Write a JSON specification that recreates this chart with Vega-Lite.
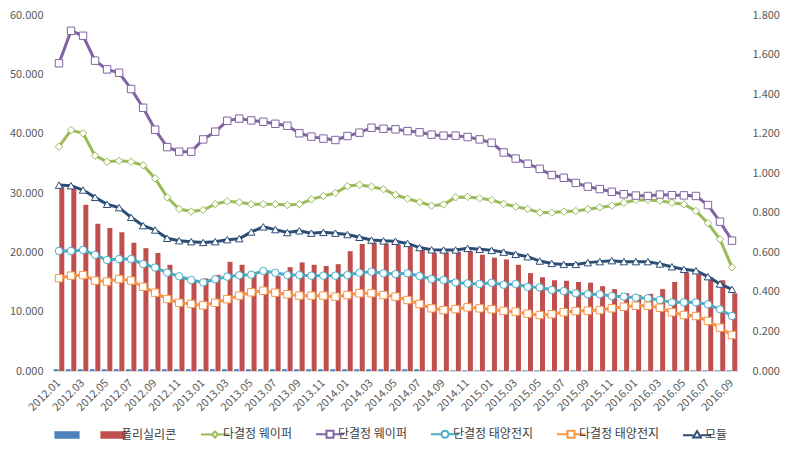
{
  "$schema": "https://vega.github.io/schema/vega-lite/v6.json",
  "width": 685,
  "height": 356,
  "autosize": "none",
  "padding": {"left": 53, "top": 15, "right": 49, "bottom": 86},
  "background": "white",
  "config": {
    "view": {"stroke": null},
    "font": "Noto Sans CJK KR",
    "axis": {"labelFont": "Noto Sans CJK KR", "labelColor": "#595959", "labelFontSize": 11, "grid": false, "ticks": false, "title": null}
  },
  "data": {"values": [
    {"월":"2012.01","_":0.3,"폴리실리콘":31.0,"다결정 웨이퍼":1.134,"단결정 웨이퍼":1.556,"단결정 태양전지":0.607,"다결정 태양전지":0.469,"모듈":0.940},
    {"월":"2012.02","_":0.3,"폴리실리콘":30.7,"다결정 웨이퍼":1.218,"단결정 웨이퍼":1.720,"단결정 태양전지":0.607,"다결정 태양전지":0.482,"모듈":0.937},
    {"월":"2012.03","_":0.3,"폴리실리콘":28.0,"다결정 웨이퍼":1.202,"단결정 웨이퍼":1.695,"단결정 태양전지":0.612,"다결정 태양전지":0.485,"모듈":0.915},
    {"월":"2012.04","_":0.3,"폴리실리콘":24.8,"다결정 웨이퍼":1.089,"단결정 웨이퍼":1.569,"단결정 태양전지":0.587,"다결정 태양전지":0.457,"모듈":0.878},
    {"월":"2012.05","_":0.3,"폴리실리콘":24.1,"다결정 웨이퍼":1.058,"단결정 웨이퍼":1.525,"단결정 태양전지":0.561,"다결정 태양전지":0.452,"모듈":0.843},
    {"월":"2012.06","_":0.3,"폴리실리콘":23.4,"다결정 웨이퍼":1.063,"단결정 웨이퍼":1.508,"단결정 태양전지":0.566,"다결정 태양전지":0.465,"모듈":0.826},
    {"월":"2012.07","_":0.3,"폴리실리콘":21.6,"다결정 웨이퍼":1.058,"단결정 웨이퍼":1.426,"단결정 태양전지":0.566,"다결정 태양전지":0.457,"모듈":0.777},
    {"월":"2012.08","_":0.3,"폴리실리콘":20.7,"다결정 웨이퍼":1.040,"단결정 웨이퍼":1.331,"단결정 태양전지":0.541,"다결정 태양전지":0.426,"모듈":0.735},
    {"월":"2012.09","_":0.3,"폴리실리콘":19.9,"다결정 웨이퍼":0.974,"단결정 웨이퍼":1.220,"단결정 태양전지":0.523,"다결정 태양전지":0.396,"모듈":0.713},
    {"월":"2012.10","_":0.3,"폴리실리콘":17.9,"다결정 웨이퍼":0.878,"단결정 웨이퍼":1.132,"단결정 태양전지":0.497,"다결정 태양전지":0.364,"모듈":0.671},
    {"월":"2012.11","_":0.3,"폴리실리콘":15.8,"다결정 웨이퍼":0.819,"단결정 웨이퍼":1.109,"단결정 태양전지":0.479,"다결정 태양전지":0.345,"모듈":0.659},
    {"월":"2012.12","_":0.3,"폴리실리콘":15.2,"다결정 웨이퍼":0.806,"단결정 웨이퍼":1.109,"단결정 태양전지":0.460,"다결정 태양전지":0.339,"모듈":0.654},
    {"월":"2013.01","_":0.3,"폴리실리콘":15.6,"다결정 웨이퍼":0.814,"단결정 웨이퍼":1.171,"단결정 태양전지":0.448,"다결정 태양전지":0.332,"모듈":0.650},
    {"월":"2013.02","_":0.3,"폴리실리콘":16.2,"다결정 웨이퍼":0.844,"단결정 웨이퍼":1.210,"단결정 태양전지":0.464,"다결정 태양전지":0.345,"모듈":0.654},
    {"월":"2013.03","_":0.3,"폴리실리콘":18.4,"다결정 웨이퍼":0.858,"단결정 웨이퍼":1.265,"단결정 태양전지":0.477,"다결정 태양전지":0.363,"모듈":0.664},
    {"월":"2013.04","_":0.3,"폴리실리콘":17.9,"다결정 웨이퍼":0.853,"단결정 웨이퍼":1.276,"단결정 태양전지":0.484,"다결정 태양전지":0.381,"모듈":0.669},
    {"월":"2013.05","_":0.3,"폴리실리콘":16.3,"다결정 웨이퍼":0.843,"단결정 웨이퍼":1.267,"단결정 태양전지":0.487,"다결정 태양전지":0.398,"모듈":0.703},
    {"월":"2013.06","_":0.3,"폴리실리콘":16.6,"다결정 웨이퍼":0.843,"단결정 웨이퍼":1.260,"단결정 태양전지":0.506,"다결정 태양전지":0.406,"모듈":0.729},
    {"월":"2013.07","_":0.3,"폴리실리콘":16.0,"다결정 웨이퍼":0.843,"단결정 웨이퍼":1.250,"단결정 태양전지":0.497,"다결정 태양전지":0.396,"모듈":0.715},
    {"월":"2013.08","_":0.3,"폴리실리콘":17.5,"다결정 웨이퍼":0.839,"단결정 웨이퍼":1.240,"단결정 태양전지":0.485,"다결정 태양전지":0.388,"모듈":0.700},
    {"월":"2013.09","_":0.3,"폴리실리콘":18.3,"다결정 웨이퍼":0.843,"단결정 웨이퍼":1.202,"단결정 태양전지":0.485,"다결정 태양전지":0.381,"모듈":0.709},
    {"월":"2013.10","_":0.3,"폴리실리콘":17.9,"다결정 웨이퍼":0.868,"단결정 웨이퍼":1.185,"단결정 태양전지":0.482,"다결정 태양전지":0.381,"모듈":0.697},
    {"월":"2013.11","_":0.3,"폴리실리콘":17.7,"다결정 웨이퍼":0.885,"단결정 웨이퍼":1.175,"단결정 태양전지":0.482,"다결정 태양전지":0.381,"모듈":0.701},
    {"월":"2013.12","_":0.3,"폴리실리콘":18.0,"다결정 웨이퍼":0.900,"단결정 웨이퍼":1.168,"단결정 태양전지":0.482,"다결정 태양전지":0.376,"모듈":0.697},
    {"월":"2014.01","_":0.3,"폴리실리콘":20.2,"다결정 웨이퍼":0.935,"단결정 웨이퍼":1.188,"단결정 태양전지":0.485,"다결정 태양전지":0.384,"모듈":0.690},
    {"월":"2014.02","_":0.3,"폴리실리콘":21.4,"다결정 웨이퍼":0.942,"단결정 웨이퍼":1.205,"단결정 태양전지":0.497,"다결정 태양전지":0.393,"모듈":0.676},
    {"월":"2014.03","_":0.3,"폴리실리콘":21.6,"다결정 웨이퍼":0.932,"단결정 웨이퍼":1.230,"단결정 태양전지":0.502,"다결정 태양전지":0.393,"모듈":0.662},
    {"월":"2014.04","_":0.3,"폴리실리콘":21.5,"다결정 웨이퍼":0.919,"단결정 웨이퍼":1.225,"단결정 태양전지":0.494,"다결정 태양전지":0.384,"모듈":0.658},
    {"월":"2014.05","_":0.3,"폴리실리콘":21.3,"다결정 웨이퍼":0.891,"단결정 웨이퍼":1.222,"단결정 태양전지":0.490,"다결정 태양전지":0.376,"모듈":0.656},
    {"월":"2014.06","_":0.3,"폴리실리콘":20.9,"다결정 웨이퍼":0.871,"단결정 웨이퍼":1.213,"단결정 태양전지":0.494,"다결정 태양전지":0.359,"모듈":0.645},
    {"월":"2014.07","_":0.3,"폴리실리콘":20.4,"다결정 웨이퍼":0.854,"단결정 웨이퍼":1.207,"단결정 태양전지":0.480,"다결정 태양전지":0.339,"모듈":0.624},
    {"월":"2014.08","_":0.12,"폴리실리콘":19.9,"다결정 웨이퍼":0.836,"단결정 웨이퍼":1.195,"단결정 태양전지":0.465,"다결정 태양전지":0.317,"모듈":0.613},
    {"월":"2014.09","_":0.12,"폴리실리콘":20.0,"다결정 웨이퍼":0.842,"단결정 웨이퍼":1.190,"단결정 태양전지":0.460,"다결정 태양전지":0.308,"모듈":0.612},
    {"월":"2014.10","_":0.12,"폴리실리콘":20.1,"다결정 웨이퍼":0.878,"단결정 웨이퍼":1.190,"단결정 태양전지":0.448,"다결정 태양전지":0.313,"모듈":0.612},
    {"월":"2014.11","_":0.12,"폴리실리콘":20.2,"다결정 웨이퍼":0.880,"단결정 웨이퍼":1.183,"단결정 태양전지":0.443,"다결정 태양전지":0.322,"모듈":0.620},
    {"월":"2014.12","_":0.12,"폴리실리콘":19.6,"다결정 웨이퍼":0.873,"단결정 웨이퍼":1.171,"단결정 태양전지":0.440,"다결정 태양전지":0.317,"모듈":0.615},
    {"월":"2015.01","_":0.12,"폴리실리콘":19.1,"다결정 웨이퍼":0.865,"단결정 웨이퍼":1.154,"단결정 태양전지":0.446,"다결정 태양전지":0.312,"모듈":0.610},
    {"월":"2015.02","_":0.12,"폴리실리콘":18.8,"다결정 웨이퍼":0.845,"단결정 웨이퍼":1.105,"단결정 태양전지":0.436,"다결정 태양전지":0.304,"모듈":0.601},
    {"월":"2015.03","_":0.12,"폴리실리콘":17.9,"다결정 웨이퍼":0.831,"단결정 웨이퍼":1.074,"단결정 태양전지":0.440,"다결정 태양전지":0.300,"모듈":0.590},
    {"월":"2015.04","_":0.12,"폴리실리콘":16.5,"다결정 웨이퍼":0.819,"단결정 웨이퍼":1.048,"단결정 태양전지":0.425,"다결정 태양전지":0.290,"모듈":0.578},
    {"월":"2015.05","_":0.12,"폴리실리콘":15.8,"다결정 웨이퍼":0.801,"단결정 웨이퍼":1.022,"단결정 태양전지":0.423,"다결정 태양전지":0.283,"모듈":0.556},
    {"월":"2015.06","_":0.12,"폴리실리콘":15.3,"다결정 웨이퍼":0.801,"단결정 웨이퍼":0.991,"단결정 태양전지":0.410,"다결정 태양전지":0.287,"모듈":0.544},
    {"월":"2015.07","_":0.12,"폴리실리콘":15.2,"다결정 웨이퍼":0.806,"단결정 웨이퍼":0.977,"단결정 태양전지":0.404,"다결정 태양전지":0.297,"모듈":0.539},
    {"월":"2015.08","_":0.12,"폴리실리콘":15.0,"다결정 웨이퍼":0.809,"단결정 웨이퍼":0.951,"단결정 태양전지":0.393,"다결정 태양전지":0.303,"모듈":0.539},
    {"월":"2015.09","_":0.12,"폴리실리콘":14.9,"다결정 웨이퍼":0.818,"단결정 웨이퍼":0.932,"단결정 태양전지":0.388,"다결정 태양전지":0.305,"모듈":0.548},
    {"월":"2015.10","_":0.12,"폴리실리콘":14.3,"다결정 웨이퍼":0.827,"단결정 웨이퍼":0.920,"단결정 태양전지":0.388,"다결정 태양전지":0.308,"모듈":0.553},
    {"월":"2015.11","_":0.12,"폴리실리콘":13.8,"다결정 웨이퍼":0.836,"단결정 웨이퍼":0.906,"단결정 태양전지":0.379,"다결정 태양전지":0.317,"모듈":0.558},
    {"월":"2015.12","_":0.12,"폴리실리콘":13.1,"다결정 웨이퍼":0.851,"단결정 웨이퍼":0.894,"단결정 태양전지":0.376,"다결정 태양전지":0.325,"모듈":0.553},
    {"월":"2016.01","_":0.12,"폴리실리콘":12.8,"다결정 웨이퍼":0.865,"단결정 웨이퍼":0.887,"단결정 태양전지":0.371,"다결정 태양전지":0.330,"모듈":0.553},
    {"월":"2016.02","_":0.12,"폴리실리콘":13.0,"다결정 웨이퍼":0.865,"단결정 웨이퍼":0.885,"단결정 태양전지":0.368,"다결정 태양전지":0.330,"모듈":0.553},
    {"월":"2016.03","_":0.12,"폴리실리콘":13.8,"다결정 웨이퍼":0.861,"단결정 웨이퍼":0.892,"단결정 태양전지":0.359,"다결정 태양전지":0.320,"모듈":0.541},
    {"월":"2016.04","_":0.12,"폴리실리콘":15.0,"다결정 웨이퍼":0.851,"단결정 웨이퍼":0.889,"단결정 태양전지":0.347,"다결정 태양전지":0.297,"모듈":0.527},
    {"월":"2016.05","_":0.12,"폴리실리콘":16.6,"다결정 웨이퍼":0.843,"단결정 웨이퍼":0.888,"단결정 태양전지":0.347,"다결정 태양전지":0.283,"모듈":0.514},
    {"월":"2016.06","_":0.12,"폴리실리콘":16.3,"다결정 웨이퍼":0.809,"단결정 웨이퍼":0.885,"단결정 태양전지":0.347,"다결정 태양전지":0.278,"모듈":0.507},
    {"월":"2016.07","_":0.12,"폴리실리콘":15.8,"다결정 웨이퍼":0.747,"단결정 웨이퍼":0.839,"단결정 태양전지":0.337,"다결정 태양전지":0.253,"모듈":0.477},
    {"월":"2016.08","_":0.12,"폴리실리콘":15.3,"다결정 웨이퍼":0.666,"단결정 웨이퍼":0.755,"단결정 태양전지":0.312,"다결정 태양전지":0.219,"모듈":0.440},
    {"월":"2016.09","_":0.12,"폴리실리콘":13.1,"다결정 웨이퍼":0.524,"단결정 웨이퍼":0.659,"단결정 태양전지":0.278,"다결정 태양전지":0.182,"모듈":0.413}
  ]},
  "encoding": {
    "x": {
      "field": "월", "type": "ordinal", "sort": null,
      "scale": {"paddingInner": 0.12, "paddingOuter": 0.06},
      "axis": {
        "labelAngle": -45, "labelAlign": "right", "labelBaseline": "middle", "labelPadding": 10, "labelDx": 2,
        "labelExpr": "toNumber(substring(datum.label, 5, 7)) % 2 == 1 ? datum.label : ''",
        "labelOverlap": false, "domainColor": "#D9D9D9", "domainWidth": 1
      }
    }
  },
  "layer": [
    {
      "transform": [{"fold": ["_", "폴리실리콘"], "as": ["series", "value"]}],
      "mark": {"type": "bar"},
      "encoding": {
        "xOffset": {"field": "series", "type": "nominal", "sort": ["_", "폴리실리콘"], "scale": {"paddingInner": 0.1}},
        "y": {
          "field": "value", "type": "quantitative",
          "scale": {"domain": [0, 60], "nice": false},
          "axis": {"orient": "left", "values": [0, 10, 20, 30, 40, 50, 60], "format": ".3f", "domain": false, "labelPadding": 10}
        },
        "color": {
          "field": "series", "type": "nominal",
          "scale": {
            "domain": ["_", "폴리실리콘", "다결정 웨이퍼", "단결정 웨이퍼", "단결정 태양전지", "다결정 태양전지", "모듈"],
            "range": ["#4F81BD", "#C0504D", "#9BBB59", "#8064A2", "#4BACC6", "#F79646", "#2C4D75"]
          },
          "legend": {
            "orient": "none", "legendX": 8, "legendY": 413, "direction": "horizontal", "title": null,
            "padding": 0, "symbolSize": 784, "symbolStrokeWidth": 2, "symbolFillColor": "white", "labelOffset": 2, "columnPadding": 20,
            "labelFont": "Noto Sans CJK KR", "labelFontSize": 12, "labelColor": "#404040",
            "labelExpr": "datum.label == '_' ? '' : datum.label",
            "encode": {
              "symbols": {
                "update": {
                  "shape": {"signal": "(datum.value == '_' || datum.value == '폴리실리콘') ? 'M-0.9,-0.27H0.9V0.27H-0.9Z' : datum.value == '다결정 웨이퍼' ? 'M-1,0H-0.22M0.22,0H1M0,-0.22L0.22,0L0,0.22L-0.22,0Z' : datum.value == '단결정 태양전지' ? 'M-1,0H-0.25M0.25,0H1M0.25,0A0.25,0.25,0,1,1,-0.25,0A0.25,0.25,0,1,1,0.25,0Z' : datum.value == '모듈' ? 'M-1,0.05H-0.27M0.27,0.05H1M0,-0.25L0.27,0.2L-0.27,0.2Z' : 'M-1,0H-0.25M0.25,0H1M-0.25,-0.25H0.25V0.25H-0.25Z'"},
                  "fill": {"signal": "(datum.value == '_' || datum.value == '폴리실리콘') ? scale('color', datum.value) : 'white'"},
                  "fillOpacity": {"signal": "(datum.value == '_' || datum.value == '폴리실리콘') ? 1 : 0"},
                  "stroke": {"signal": "scale('color', datum.value)"},
                  "strokeWidth": {"signal": "(datum.value == '_' || datum.value == '폴리실리콘') ? 0 : 2"},
                  "opacity": {"value": 1},
                  "strokeOpacity": {"value": 1}
                }
              }
            }
          }
        }
      }
    },
    {
      "transform": [{"fold": ["다결정 웨이퍼", "단결정 웨이퍼", "단결정 태양전지", "다결정 태양전지", "모듈"], "as": ["series", "value"]}],
      "encoding": {
        "y": {
          "field": "value", "type": "quantitative",
          "scale": {"domain": [0, 1.8], "nice": false},
          "axis": {"orient": "right", "values": [0, 0.2, 0.4, 0.6, 0.8, 1.0, 1.2, 1.4, 1.6, 1.8], "format": ".3f", "domain": false, "labelPadding": 14}
        },
        "color": {"field": "series", "type": "nominal"}
      },
      "layer": [
        {"mark": {"type": "line", "strokeWidth": 3}},
        {
          "mark": {"type": "point", "filled": false, "fill": "white", "fillOpacity": 1, "opacity": 1, "strokeWidth": 1, "size": 55},
          "encoding": {
            "shape": {
              "field": "series", "type": "nominal", "legend": null,
              "scale": {
                "domain": ["다결정 웨이퍼", "단결정 웨이퍼", "단결정 태양전지", "다결정 태양전지", "모듈"],
                "range": ["diamond", "square", "circle", "square", "triangle-up"]
              }
            }
          }
        }
      ]
    }
  ],
  "resolve": {"scale": {"y": "independent"}}
}
